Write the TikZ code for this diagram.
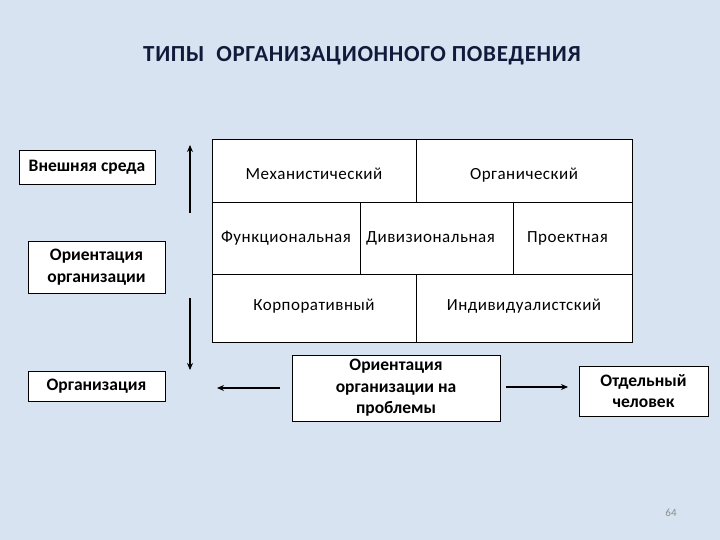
\documentclass[tikz,border=0pt]{standalone}
\usepackage{fontspec}
\setmainfont{Carlito}
\usetikzlibrary{arrows.meta}
\definecolor{bgblue}{HTML}{D7E3F0}
\definecolor{titlecol}{HTML}{111A3A}
\tikzset{
  box/.style={draw=black, line width=0.9pt, fill=white, align=center, inner sep=2pt, font=\fontsize{17.5}{21.5}\selectfont\bfseries},
  cell/.style={draw=black, line width=0.9pt, fill=white, inner sep=0pt, text height=12pt, text depth=4pt, font=\fontsize{17}{20}\selectfont\addfontfeature{LetterSpace=3}},
  arr/.style={line width=1.4pt, -{Stealth[length=7pt,width=6pt]}}
}
\begin{document}
\begin{tikzpicture}[x=1pt,y=-1pt]
\fill[bgblue] (0,0) rectangle (720,540);
\useasboundingbox (0,0) rectangle (720,540);

\node[text=titlecol, font=\fontsize{23}{26}\selectfont\bfseries\addfontfeature{LetterSpace=3}] (title) at (362,56) {ТИПЫ\ \ ОРГАНИЗАЦИОННОГО ПОВЕДЕНИЯ};

% grid
\node[cell, minimum width=204pt, minimum height=63pt] (mech) at (314,170.5) {\raisebox{-5pt}{Механистический}};
\node[cell, minimum width=216pt, minimum height=63pt] (org) at (524,170.5) {\raisebox{-5pt}{Органический}};
\node[cell, minimum width=148pt, minimum height=72pt] (func) at (286,238) {Функциональная};
\node[cell, minimum width=153pt, minimum height=72pt] (div) at (436.5,238) {\hspace*{-12pt}Дивизиональная};
\node[cell, minimum width=119pt, minimum height=72pt] (proj) at (572.5,238) {\hspace*{-10pt}Проектная};
\node[cell, minimum width=204pt, minimum height=68pt] (corp) at (314,308) {\raisebox{2pt}{Корпоративный}};
\node[cell, minimum width=216pt, minimum height=68pt] (ind) at (524,308) {\raisebox{2pt}{Индивидуалистский}};

% left boxes
\node[box, minimum width=136pt, minimum height=34pt] (env) at (87,167) {Внешняя среда};
\node[box, minimum width=137pt, minimum height=52pt] (orient) at (96.5,267) {Ориентация\\организации};
\node[box, minimum width=137pt, minimum height=30pt] (orga) at (96.5,386) {Организация};

% bottom boxes
\node[box, minimum width=208pt, minimum height=66pt] (prob) at (396,388) {Ориентация\\организации на\\проблемы};
\node[box, minimum width=129pt, minimum height=50pt] (pers) at (643.5,391) {Отдельный\\человек};

% arrows
\coordinate (u1) at (190,213);
\coordinate (u2) at (190,145);
\coordinate (d1) at (190,298);
\coordinate (d2) at (190,370);
\coordinate (l1) at (280,388);
\coordinate (l2) at (217,388);
\coordinate (r1) at (506,387);
\coordinate (r2) at (568,387);
\draw[arr] (u1) -- (u2);
\draw[arr] (d1) -- (d2);
\draw[arr] (l1) -- (l2);
\draw[arr] (r1) -- (r2);

\node[text=black!45, font=\fontsize{11}{12}\selectfont] (pg) at (671,513) {64};
\end{tikzpicture}
\end{document}
